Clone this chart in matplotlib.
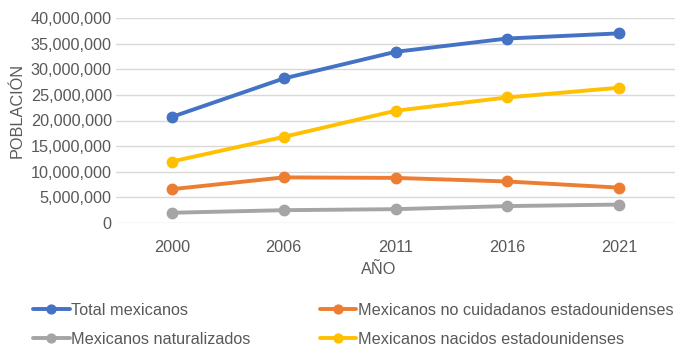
import matplotlib.pyplot as plt
from matplotlib.ticker import FuncFormatter

plt.rcParams['font.family'] = ['Liberation Sans', 'DejaVu Sans']

years = ['2000', '2006', '2011', '2016', '2021']
total = [20.7e6, 28.2e6, 33.4e6, 36.0e6, 37.0e6]
no_ciudadanos = [6.6e6, 8.9e6, 8.8e6, 8.1e6, 6.9e6]
naturalizados = [2.0e6, 2.5e6, 2.7e6, 3.3e6, 3.6e6]
nacidos = [12.0e6, 16.8e6, 21.9e6, 24.5e6, 26.4e6]

series = [
    ('Total mexicanos', total, '#4472C4'),
    ('Mexicanos no cuidadanos estadounidenses', no_ciudadanos, '#ED7D31'),
    ('Mexicanos naturalizados', naturalizados, '#A5A5A5'),
    ('Mexicanos nacidos estadounidenses', nacidos, '#FFC000'),
]

text_color = '#595959'
fs = 11.7

fig = plt.figure(figsize=(6.77, 3.48), dpi=100)
ax = fig.add_axes([116 / 677, 1 - 223 / 348, 559 / 677, 205 / 348])

x = list(range(len(years)))
for label, vals, color in series:
    ax.plot(x, vals, color=color, lw=2.8, marker='o', ms=7.5, label=label,
            solid_capstyle='round')

ax.set_xlim(-0.5, len(years) - 0.5)
ax.set_ylim(0, 40e6)
ax.set_yticks(range(0, 40000001, 5000000))
ax.yaxis.set_major_formatter(FuncFormatter(lambda v, p: f'{int(v):,}'))
ax.set_xticks(x)
ax.set_xticklabels(years)

ax.grid(axis='y', color='#D9D9D9', lw=1)
ax.set_axisbelow(True)
for s in ax.spines.values():
    s.set_visible(False)
ax.tick_params(length=0, colors=text_color, labelsize=fs)
ax.tick_params(axis='x', pad=12)
ax.tick_params(axis='y', pad=3)

ax.set_xlabel('AÑO', color=text_color, fontsize=fs)
ax.xaxis.set_label_coords(0.469, -0.19)
ax.set_ylabel('POBLACIÓN', color=text_color, fontsize=fs)
ax.yaxis.set_label_coords(-0.163, 0.55)

handles, labels = ax.get_legend_handles_labels()
order = [0, 2, 1, 3]
fig.legend([handles[i] for i in order], [labels[i] for i in order],
           ncol=2, loc='upper left', bbox_to_anchor=(33 / 677, 1 - 303 / 348),
           frameon=False, fontsize=fs, labelcolor=text_color,
           borderpad=0, borderaxespad=0,
           handlelength=2.25, handletextpad=0.1, columnspacing=4.25,
           labelspacing=0.85, markerscale=0.85)

fig.savefig('out.png', dpi=100)
